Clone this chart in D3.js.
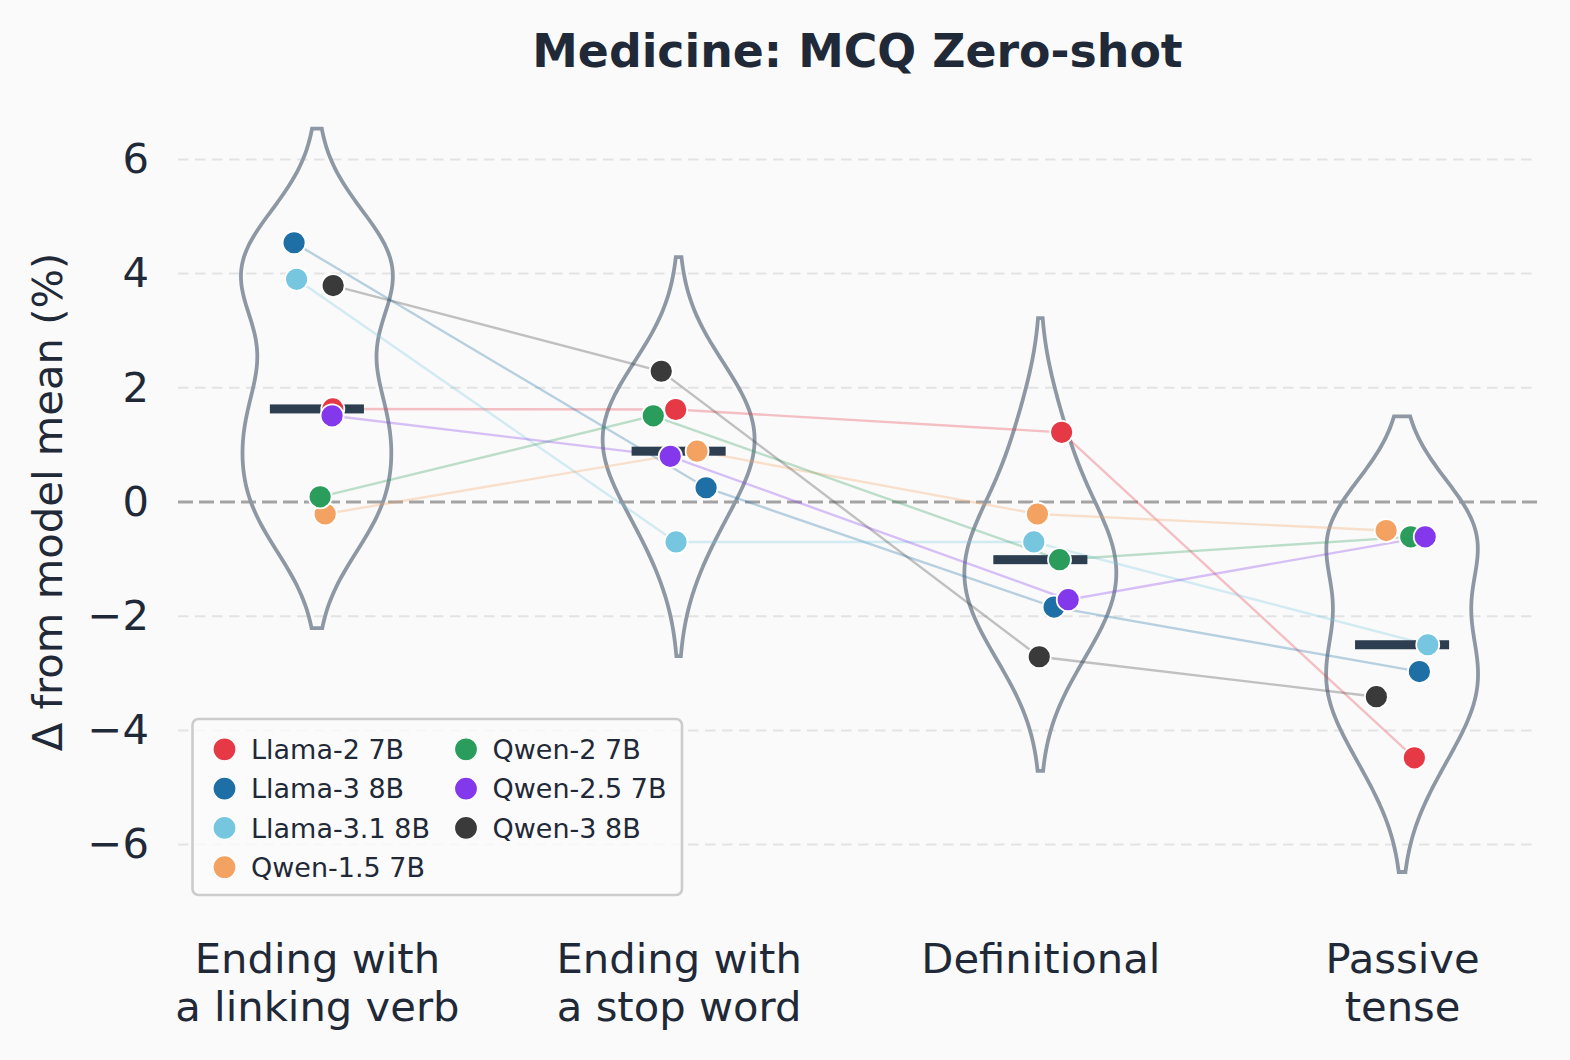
<!DOCTYPE html>
<html lang="en">
<head>
<meta charset="utf-8">
<title>Medicine: MCQ Zero-shot</title>
<script src="https://d3js.org/d3.v7.min.js"></script>
<style>
  html, body { margin: 0; padding: 0; background: #fafafa; }
  svg { display: block; font-family: "DejaVu Sans", sans-serif; }
</style>
</head>
<body>
<div id="chart"></div>
<script>
// ---- data ----
var categoryLabels = [
  ["Ending with", "a linking verb"],
  ["Ending with", "a stop word"],
  ["Definitional"],
  ["Passive", "tense"]
];
var modelNames = ["Llama-2 7B", "Llama-3 8B", "Llama-3.1 8B", "Qwen-1.5 7B", "Qwen-2 7B", "Qwen-2.5 7B", "Qwen-3 8B"];
var modelColors = ["#e63946", "#1d6fa5", "#76c6df", "#f4a261", "#2a9d5c", "#8338ec", "#3a3a3a"];

// delta from model mean (%), one value per category
var llama2 = [1.63, 1.62, 1.22, -4.48];
var llama3 = [4.54, 0.25, -1.84, -2.97];
var llama31 = [3.90, -0.70, -0.70, -2.50];
var qwen15 = [-0.21, 0.89, -0.21, -0.50];
var qwen2 = [0.09, 1.51, -1.01, -0.61];
var qwen25 = [1.51, 0.80, -1.71, -0.61];
var qwen3 = [3.79, 2.29, -2.71, -3.41];

// horizontal jitter of each dot, in category units
var jitLlama2 = [0.044, -0.008, 0.059, 0.034];
var jitLlama3 = [-0.063, 0.076, 0.038, 0.048];
var jitLlama31 = [-0.056, -0.007, -0.018, 0.071];
var jitQwen15 = [0.023, 0.051, -0.008, -0.044];
var jitQwen2 = [0.009, -0.070, 0.053, 0.024];
var jitQwen25 = [0.042, -0.023, 0.077, 0.064];
var jitQwen3 = [0.045, -0.048, -0.003, -0.071];

var yTicks = [-6, -4, -2, 0, 2, 4, 6];

var series = [llama2, llama3, llama31, qwen15, qwen2, qwen25, qwen3];
var jitters = [jitLlama2, jitLlama3, jitLlama31, jitQwen15, jitQwen2, jitQwen25, jitQwen3];

// ---- layout ----
var W = 1570, H = 1060;
var textColor = "#1f2937";

var svg = d3.select("#chart").append("svg")
  .attr("width", W)
  .attr("height", H);

svg.append("rect").attr("width", W).attr("height", H).attr("fill", "#fafafa");

var x = d3.scaleLinear().domain([-0.384, 3.373]).range([178, 1537]);
var y = d3.scaleLinear().domain([-7, 7]).range([901.7, 102.3]);

// grid
svg.append("g").selectAll("line")
  .data(yTicks.filter(function(d) { return d !== 0; }))
  .enter().append("line")
  .attr("x1", x.range()[0]).attr("x2", x.range()[1])
  .attr("y1", function(d) { return y(d); })
  .attr("y2", function(d) { return y(d); })
  .attr("stroke", "#e3e3e3")
  .attr("stroke-width", 2)
  .attr("stroke-dasharray", "10.5,6.5");

// zero line
svg.append("line")
  .attr("x1", x.range()[0]).attr("x2", x.range()[1])
  .attr("y1", y(0)).attr("y2", y(0))
  .attr("stroke", "#a3a3a3")
  .attr("stroke-width", 3)
  .attr("stroke-dasharray", "15,6");

// y axis
var yAxis = svg.append("g")
  .attr("transform", "translate(" + x.range()[0] + ",0)")
  .call(d3.axisLeft(y).tickValues(yTicks).tickSize(0).tickPadding(29));
yAxis.select(".domain").remove();
yAxis.selectAll("text")
  .attr("fill", textColor)
  .style("font-size", "41.7px")
  .style("font-family", "DejaVu Sans");

// x axis
var xAxis = svg.append("g")
  .attr("transform", "translate(0," + y.range()[0] + ")")
  .call(d3.axisBottom(x).tickValues([0, 1, 2, 3]).tickSize(0));
xAxis.select(".domain").remove();
xAxis.selectAll("text").each(function(d) {
  var t = d3.select(this).text(null).attr("y", 0).attr("dy", null)
    .attr("fill", textColor)
    .style("font-size", "41.7px")
    .style("font-family", "DejaVu Sans");
  categoryLabels[d].forEach(function(line, k) {
    t.append("tspan").attr("x", 0).attr("y", 71 + k * 48.5).text(line);
  });
});

// y label
svg.append("text")
  .attr("transform", "translate(62," + y(0) + ") rotate(-90)")
  .attr("text-anchor", "middle")
  .attr("fill", textColor)
  .style("font-size", "41.7px")
  .text("\u0394 from model mean (%)");

// title
svg.append("text")
  .attr("x", (x.range()[0] + x.range()[1]) / 2)
  .attr("y", 67)
  .attr("text-anchor", "middle")
  .attr("fill", textColor)
  .style("font-size", "45.8px")
  .style("font-weight", "bold")
  .text("Medicine: MCQ Zero-shot");

// violins: gaussian KDE, fixed bandwidth, cut at 2 bandwidths
var bw = 1.0, cut = 2, halfWidth = 0.21;
function kde(vals, t) {
  return d3.sum(vals, function(v) { var u = (t - v) / bw; return Math.exp(-0.5 * u * u); });
}
categoryLabels.forEach(function(lbl, ci) {
  var vals = series.map(function(s) { return s[ci]; });
  var lo = d3.min(vals) - cut * bw, hi = d3.max(vals) + cut * bw;
  var grid = d3.range(0, 201).map(function(k) { return lo + (hi - lo) * k / 200; });
  var dens = grid.map(function(t) { return kde(vals, t); });
  var dmax = d3.max(dens);
  var pts = grid.map(function(t, k) { return { v: t, w: dens[k] / dmax * halfWidth }; });
  var area = d3.area()
    .y(function(p) { return y(p.v); })
    .x0(function(p) { return x(ci - p.w); })
    .x1(function(p) { return x(ci + p.w); })
    .curve(d3.curveBasis);
  svg.append("path")
    .datum(pts)
    .attr("d", area)
    .attr("fill", "none")
    .attr("stroke", "#8d98a4")
    .attr("stroke-width", 3.8);
});

// connecting lines
series.forEach(function(s, mi) {
  var line = d3.line()
    .x(function(v, ci) { return x(ci + jitters[mi][ci]); })
    .y(function(v) { return y(v); });
  svg.append("path")
    .datum(s)
    .attr("d", line)
    .attr("fill", "none")
    .attr("stroke", modelColors[mi])
    .attr("stroke-opacity", 0.3)
    .attr("stroke-width", 2.4);
});

// median bars
categoryLabels.forEach(function(lbl, ci) {
  var med = d3.median(series.map(function(s) { return s[ci]; }));
  svg.append("rect")
    .attr("x", x(ci - 0.13))
    .attr("width", x(ci + 0.13) - x(ci - 0.13))
    .attr("y", y(med) - 4.5)
    .attr("height", 9)
    .attr("fill", "#2c3e50");
});

// points
series.forEach(function(s, mi) {
  svg.append("g").selectAll("circle")
    .data(s)
    .enter().append("circle")
    .attr("cx", function(v, ci) { return x(ci + jitters[mi][ci]); })
    .attr("cy", function(v) { return y(v); })
    .attr("r", 11.5)
    .attr("fill", modelColors[mi])
    .attr("stroke", "#ffffff")
    .attr("stroke-width", 1.8);
});

// legend
var legend = svg.append("g");
legend.append("rect")
  .attr("x", 192.5).attr("y", 719)
  .attr("width", 489.5).attr("height", 176)
  .attr("rx", 6)
  .attr("fill", "#fafafa")
  .attr("fill-opacity", 0.85)
  .attr("stroke", "#cccccc")
  .attr("stroke-width", 2.6);
modelNames.forEach(function(name, mi) {
  var col = mi < 4 ? 0 : 1, row = mi < 4 ? mi : mi - 4;
  var cx = col === 0 ? 224.5 : 466;
  var cy = 749.3 + row * 39.3;
  legend.append("circle")
    .attr("cx", cx).attr("cy", cy).attr("r", 11.5)
    .attr("fill", modelColors[mi])
    .attr("stroke", "#ffffff")
    .attr("stroke-width", 1.2);
  legend.append("text")
    .attr("x", cx + 26.5).attr("y", cy)
    .attr("dy", "0.36em")
    .attr("fill", textColor)
    .style("font-size", "27px")
    .text(name);
});
</script>
</body>
</html>
